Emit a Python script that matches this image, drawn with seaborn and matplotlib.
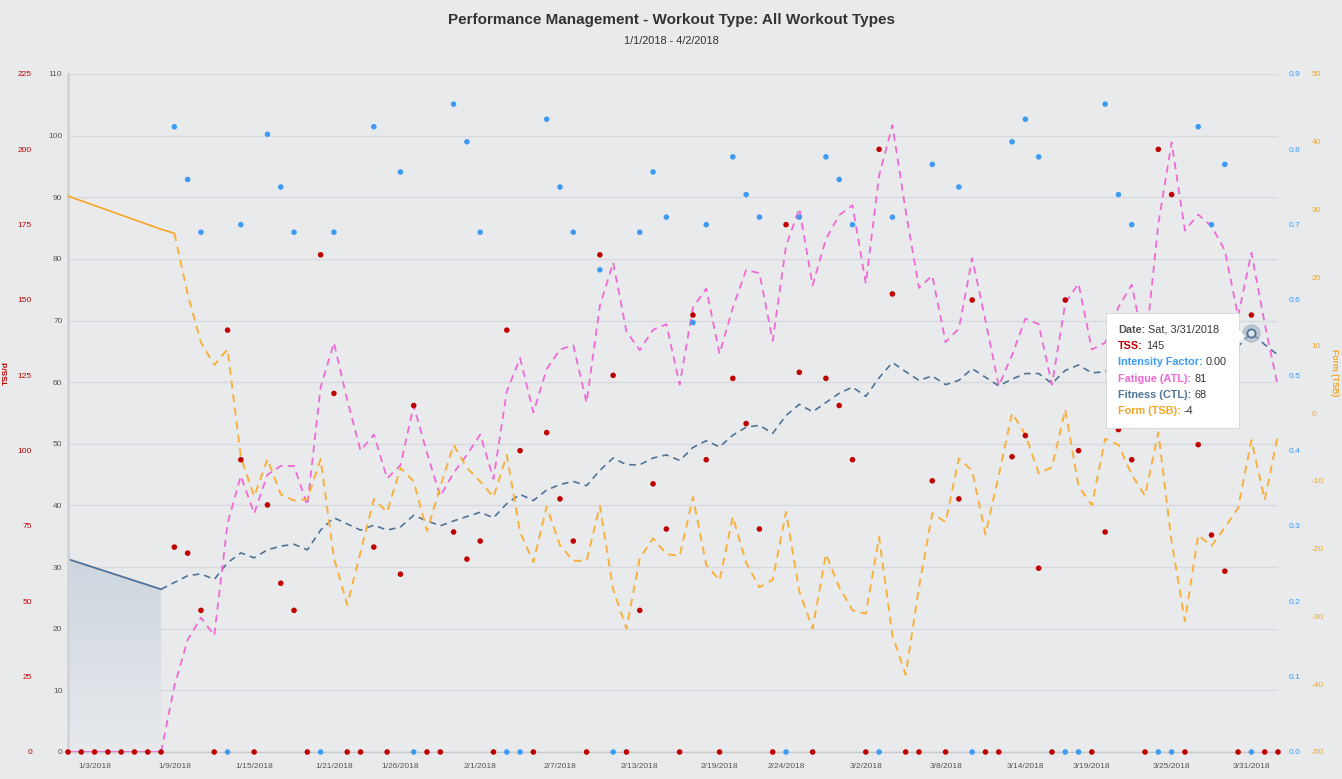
import numpy as np
import pandas as pd
import matplotlib
matplotlib.use("Agg")
import matplotlib.pyplot as plt
import seaborn as sns
from matplotlib.colors import LinearSegmentedColormap
from matplotlib.offsetbox import TextArea, HPacker, VPacker, AnnotationBbox
from matplotlib.patches import Polygon
from matplotlib.transforms import IdentityTransform
import matplotlib.dates as mdates

nan = np.nan

dates = pd.date_range("2018-01-01", "2018-04-02", freq="D")

tss = [
    0, 0, 0, 0, 0, 0, 0, 0, 68, 66,
    47, 0, 140, 97, 0, 82, 56, 47, 0, 165,
    119, 0, 0, 68, 0, 59, 115, 0, 0, 73,
    64, 70, 0, 140, 100, 0, 106, 84, 70, 0,
    165, 125, 0, 47, 89, 74, 0, 145, 97, 0,
    124, 109, 74, 0, 175, 126, 0, 124, 115, 97,
    0, 200, 152, 0, 0, 90, 0, 84, 150, 0,
    0, 98, 105, 61, 0, 150, 100, 0, 73, 107,
    97, 0, 200, 185, 0, 102, 72, 60, 0, 145,
    0, 0,
]

intensity = [
    nan, nan, nan, nan, nan, nan, nan, nan, 0.83, 0.76,
    0.69, nan, 0.00, 0.70, nan, 0.82, 0.75, 0.69, nan, 0.00,
    0.69, nan, nan, 0.83, nan, 0.77, 0.00, nan, nan, 0.86,
    0.81, 0.69, nan, 0.00, 0.00, nan, 0.84, 0.75, 0.69, nan,
    0.64, 0.00, nan, 0.69, 0.77, 0.71, nan, 0.57, 0.70, nan,
    0.79, 0.74, 0.71, nan, 0.00, 0.71, nan, 0.79, 0.76, 0.70,
    nan, 0.00, 0.71, nan, nan, 0.78, nan, 0.75, 0.00, nan,
    nan, 0.81, 0.84, 0.79, nan, 0.00, 0.00, nan, 0.86, 0.74,
    0.70, nan, 0.00, 0.00, nan, 0.83, 0.70, 0.78, nan, 0.00,
    nan, nan,
]

atl = [
    0, 0, 0, 0, 0, 0, 0, 0, 10.7, 18.2,
    21.8, 18.9, 37.1, 44.8, 38.7, 45.0, 46.4, 46.4, 40.0, 59.2,
    66.4, 57.1, 48.9, 51.5, 44.4, 46.5, 56.2, 48.5, 41.5, 45.3,
    48.2, 51.5, 44.3, 58.5, 63.9, 55.1, 62.1, 65.3, 66.0, 56.7,
    72.4, 79.4, 68.2, 65.2, 68.5, 69.4, 59.6, 72.1, 75.2, 64.6,
    72.1, 78.2, 77.7, 66.7, 82.1, 88.2, 75.7, 83.2, 87.1, 88.7,
    76.0, 93.5, 101.7, 87.8, 75.3, 77.3, 66.5, 68.7, 80.1, 70.0,
    59.4, 64.4, 70.3, 69.4, 59.6, 72.8, 76.0, 65.3, 66.4, 72.2,
    75.8, 65.0, 85.7, 98.9, 84.6, 87.2, 85.3, 81.4, 70.7, 81.0,
    69.5, 59.2,
]

ctl = [
    31.3, 30.6, 29.9, 29.2, 28.5, 27.8, 27.1, 26.4, 27.5, 28.6,
    28.9, 28.0, 30.7, 32.3, 31.5, 32.8, 33.4, 33.7, 32.8, 36.0,
    38.0, 37.0, 36.0, 36.8, 36.0, 36.5, 38.4, 37.5, 36.7, 37.5,
    38.2, 38.9, 38.0, 40.3, 41.8, 40.8, 42.5, 43.4, 43.9, 43.2,
    45.7, 47.7, 46.6, 46.6, 47.7, 48.2, 47.3, 49.4, 50.5, 49.5,
    51.4, 52.7, 53.0, 51.7, 54.6, 56.4, 55.2, 56.7, 58.2, 59.2,
    57.7, 60.7, 63.2, 61.7, 60.3, 61.0, 59.6, 60.3, 62.2, 60.8,
    59.4, 60.5, 61.4, 61.4, 59.8, 61.9, 62.8, 61.5, 61.7, 62.8,
    63.6, 62.1, 65.4, 68.2, 66.6, 67.5, 67.6, 67.4, 65.8, 68.0,
    66.1, 64.4,
]

tsb = [
    32.0, 31.3, 30.6, 29.9, 29.2, 28.5, 27.8, 27.1, 26.5, 17.5,
    10.4, 7.1, 9.4, -6.5, -12.3, -6.8, -12.0, -12.9, -12.7, -6.8,
    -21.4, -28.3, -20.5, -12.7, -14.6, -8.1, -10.1, -17.4, -10.9, -4.7,
    -8.1, -10.1, -12.4, -6.2, -17.6, -22.0, -13.8, -19.5, -21.8, -21.8,
    -13.7, -26.0, -31.8, -21.4, -18.5, -20.8, -21.1, -12.4, -22.4, -24.7,
    -15.3, -22.1, -25.7, -24.6, -14.6, -26.3, -31.8, -20.8, -25.7, -29.1,
    -29.6, -18.3, -32.8, -38.6, -25.7, -14.8, -16.1, -6.7, -8.5, -17.9,
    -9.2, 0.0, -3.2, -8.9, -8.0, 0.5, -10.8, -13.6, -3.8, -4.7,
    -9.1, -12.2, -2.9, -19.0, -30.7, -18.0, -19.6, -16.9, -14.0, -4.0,
    -12.8, -3.2,
]

tick_dates = ["2018-01-03", "2018-01-09", "2018-01-15", "2018-01-21",
              "2018-01-26", "2018-02-01", "2018-02-07", "2018-02-13",
              "2018-02-19", "2018-02-24", "2018-03-02", "2018-03-08",
              "2018-03-14", "2018-03-19", "2018-03-25", "2018-03-31"]
tick_labels = ["1/3/2018", "1/9/2018", "1/15/2018", "1/21/2018",
               "1/26/2018", "2/1/2018", "2/7/2018", "2/13/2018",
               "2/19/2018", "2/24/2018", "3/2/2018", "3/8/2018",
               "3/14/2018", "3/19/2018", "3/25/2018", "3/31/2018"]

load_ticks = list(range(0, 111, 10))
tss_ticks = list(range(0, 226, 25))
if_ticks = [i / 10 for i in range(10)]
tsb_ticks = list(range(-50, 51, 10))

HIST = 8        # ATL / CTL actual values (solid) up to 1/8
TSB_HIST = 9    # form is shifted one day
HOVER = 89      # tooltip day, 3/31

BG = "#e9eaec"
GRID = "#d9dadd"
GRAY = "#555555"
RED = "#c00000"
BLUE = "#3d9bf3"
PINK = "#ef6ad4"
STEEL = "#4f7397"
ORANGE = "#f5a623"
ORANGE_DASH = "#f7b13c"

df = pd.DataFrame({"date": dates, "tss": tss, "if": intensity,
                   "atl": atl, "ctl": ctl, "tsb": tsb})

sns.set_theme(style="white", rc={"axes.facecolor": BG, "figure.facecolor": BG,
                                 "axes.unicode_minus": False})
plt.rcParams["font.family"] = ["Liberation Sans", "DejaVu Sans"]

W, H = 1342, 779
fig = plt.figure(figsize=(W / 100, H / 100), dpi=100)
ax = fig.add_axes([68 / W, 1 - 752 / H, 1210 / W, 678 / H])
ax_tsb = ax.twinx()
ax_if = ax.twinx()
ax_tss = ax.twinx()

hist = df.iloc[:HIST]
plan = df.iloc[HIST - 1:]

# fitness area for the actual days, light gradient
poly = ax.fill_between(hist["date"], hist["ctl"], 0, color="none", lw=0)
cmap = LinearSegmentedColormap.from_list("ctlfill", ["#e7e9ec", "#cdd6df"])
x0, x1 = mdates.date2num(dates[0]), mdates.date2num(dates[HIST - 1])
grad = np.linspace(1, 0, 256).reshape(-1, 1)
im = ax.imshow(grad, cmap=cmap, aspect="auto", extent=[x0, x1, 0, max(ctl[:HIST])],
               zorder=1)
im.set_clip_path(poly.get_paths()[0], transform=ax.transData)

sns.lineplot(data=hist, x="date", y="ctl", ax=ax, color=STEEL, lw=1.3)
sns.lineplot(data=plan, x="date", y="ctl", ax=ax, color=STEEL, lw=1.2, linestyle="--")
sns.lineplot(data=hist, x="date", y="atl", ax=ax, color=PINK, lw=2.2)
sns.lineplot(data=plan, x="date", y="atl", ax=ax, color=PINK, lw=1.3, linestyle="--")

sns.lineplot(data=df.iloc[:TSB_HIST], x="date", y="tsb", ax=ax_tsb, color=ORANGE, lw=1.2)
sns.lineplot(data=df.iloc[TSB_HIST - 1:], x="date", y="tsb", ax=ax_tsb, color=ORANGE_DASH,
             lw=1.4, linestyle="--")

for a in (ax, ax_tsb):
    for ln in a.lines:
        if ln.get_linestyle() == "--":
            ln.set_dashes([4, 3])

sns.scatterplot(data=df.dropna(subset=["if"]), x="date", y="if", ax=ax_if, color=BLUE,
                s=16, edgecolor="none", clip_on=False)
sns.scatterplot(data=df, x="date", y="tss", ax=ax_tss, color=RED,
                s=16, edgecolor="none", clip_on=False)

# hover marker
ax.scatter([dates[HOVER]], [ctl[HOVER]], s=150, color="#9fb1c3", alpha=0.6, zorder=5,
           clip_on=False)
ax.scatter([dates[HOVER]], [ctl[HOVER]], s=35, facecolor="#dfe5eb", edgecolor=STEEL,
           lw=1.3, zorder=6, clip_on=False)

ax.set_xlim(dates[0], dates[-1])
ax.set_ylim(0, 110)
ax_tss.set_ylim(0, 225)
ax_if.set_ylim(0, 0.9)
ax_tsb.set_ylim(-50, 50)

ax.set_yticks(load_ticks)
ax.set_xticks(pd.to_datetime(tick_dates))
ax.set_xticklabels(tick_labels)
ax.yaxis.grid(True, color=GRID, lw=1)
ax.xaxis.grid(False)
ax.tick_params(axis="y", length=0, pad=4, labelsize=6, labelcolor=GRAY)
ax.tick_params(axis="x", length=0, pad=8, labelsize=6, labelcolor=GRAY)
for s in ("top", "right"):
    ax.spines[s].set_visible(False)
ax.spines["left"].set_color("#d2d3d6")
ax.spines["left"].set_linewidth(2)
ax.spines["bottom"].set_color("#c9cacd")
ax.spines["bottom"].set_linewidth(1)

ax_tss.yaxis.set_ticks_position("left")
ax_tss.spines["left"].set_position(("outward", 22))
ax_tss.set_yticks(tss_ticks)
ax_tss.tick_params(axis="y", length=0, pad=4, labelsize=6, labelcolor=RED)

ax_if.set_yticks(if_ticks)
ax_if.set_yticklabels([f"{v:.1f}" for v in if_ticks])
ax_if.tick_params(axis="y", length=0, pad=8, labelsize=6, labelcolor=BLUE)

ax_tsb.spines["right"].set_position(("outward", 20))
ax_tsb.set_yticks(tsb_ticks)
ax_tsb.tick_params(axis="y", length=0, pad=4, labelsize=6, labelcolor=ORANGE)

for a in (ax, ax_tsb, ax_if, ax_tss):
    a.set_xlabel("")
    a.set_ylabel("")
    if a is not ax:
        for s in a.spines.values():
            s.set_visible(False)

fig.text(671 / W, 1 - 20 / H, "Performance Management - Workout Type: All Workout Types",
         ha="center", va="center", fontsize=11, fontweight="bold", color="#333333")
fig.text(671 / W, 1 - 41 / H, "1/1/2018 - 4/2/2018", ha="center", va="center",
         fontsize=7.9, color="#333333")
fig.text(6 / W, 1 - 373 / H, "TSS/d", rotation=90, ha="center", va="center",
         fontsize=6, fontweight="bold", color=RED)
fig.text(1335 / W, 1 - 373 / H, "Form (TSB)", rotation=270, ha="center", va="center",
         fontsize=6.2, fontweight="bold", color=ORANGE)

# tooltip
def tip_line(label, value, color):
    return HPacker(children=[
        TextArea(label, textprops=dict(color=color, fontweight="bold", fontsize=7.8)),
        TextArea(value, textprops=dict(color="#333333", fontsize=7.8)),
    ], sep=2.2, align="baseline", pad=0)

lines = [
    tip_line("Date:", dates[HOVER].strftime("Sat, %-m/%-d/%Y"), GRAY),
    tip_line("TSS:", f"{tss[HOVER]:.0f}", RED),
    tip_line("Intensity Factor:", f"{intensity[HOVER]:.2f}", BLUE),
    tip_line("Fatigue (ATL):", f"{atl[HOVER]:.0f}", PINK),
    tip_line("Fitness (CTL):", f"{ctl[HOVER]:.0f}", STEEL),
    tip_line("Form (TSB):", f"{tsb[HOVER]:.0f}", ORANGE),
]
box = VPacker(children=lines, sep=4.5, align="left", pad=0)
ab = AnnotationBbox(box, (1172.5, H - 370.5), xycoords="figure pixels", frameon=True,
                    pad=0.8, box_alignment=(0.5, 0.5),
                    bboxprops=dict(fc="white", ec="#d4d4d4", lw=0.6))
ab.set_zorder(20)
fig.add_artist(ab)
fig.add_artist(Polygon([(1236, H - 327), (1245, H - 336), (1236, H - 345)], closed=True,
                       fc="white", ec="none", transform=IdentityTransform(), zorder=21))

fig.savefig("out.png", dpi=100, facecolor=BG)
